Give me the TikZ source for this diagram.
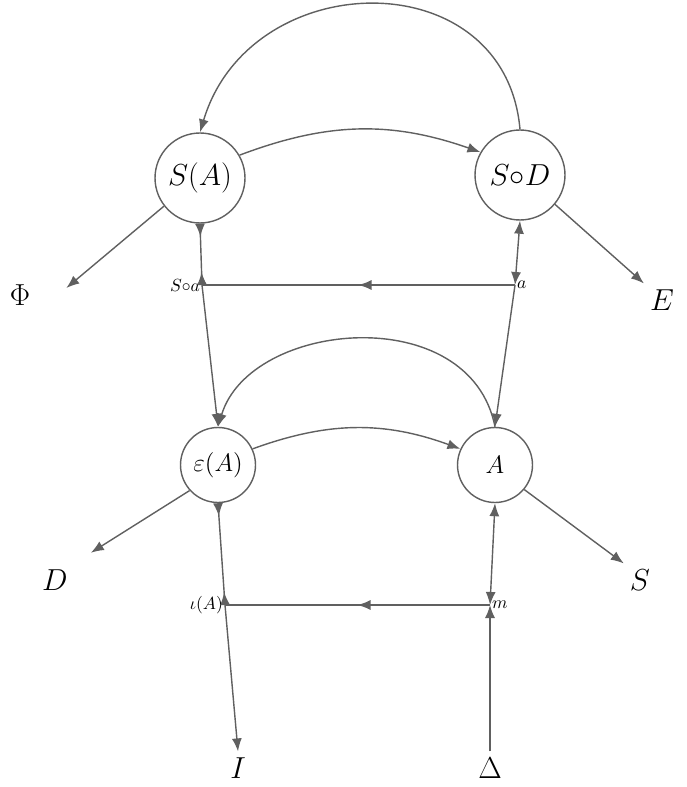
\documentclass[tikz,border=0pt]{standalone}
\usepackage{tikz}
\usetikzlibrary{arrows.meta,calc,decorations.markings}
\colorlet{penGray}{gray!75!black}
\tikzset{
  obj/.style={draw=penGray, circle, thick, minimum size=1.8cm, inner sep=0pt, font=\LARGE},
  smallobj/.style={draw=penGray, circle, thick, minimum size=1.5cm, inner sep=0pt, font=\Large},
  lbl/.style={font=\LARGE},
  tiny lbl/.style={font=\normalsize, inner sep=1pt},
  arr/.style={penGray, thick, -{Latex[length=2.6mm,width=2mm]}},
  midarr/.style={penGray, thick, postaction={decorate},
    decoration={markings, mark=at position 0.5 with {\arrow{>}}}},
}
\begin{document}
\begin{tikzpicture}[x=0.02cm, y=-0.02cm, >={Latex[length=2.6mm,width=2mm]}]
    \useasboundingbox (0,0) rectangle (686,787);
    % upper row
    \node[obj] (SA) at (200,178) {$S(A)$};
    \node[obj] (SD) at (520,175) {$S{\circ}D$};
    \node[lbl] (phi) at (20,295) {$\Phi$};
    \node[lbl] (E) at (662,300) {$E$};
    \coordinate (phitip) at ($(phi.east)+(30,-7)$);
    \coordinate (jl) at (202,285);
    \coordinate (jr) at (515,285);
    \node[tiny lbl, anchor=east] (sa) at (jl) {$S{\circ}a$};
    \node[tiny lbl, anchor=west] (a) at (jr) {$a$};
    % lower row
    \node[smallobj] (eA) at (218,465) {$\varepsilon(A)$};
    \node[smallobj] (A) at (495,465) {$A$};
    \node[lbl] (D) at (55,580) {$D$};
    \node[lbl] (S) at (640,580) {$S$};
    \coordinate (kl) at (225,605);
    \coordinate (kr) at (490,605);
    \node[tiny lbl, anchor=east] (iA) at (kl) {$\iota(A)$};
    \node[tiny lbl, anchor=west] (m) at (kr) {$m$};
    \node[lbl] (I) at (238,768) {$I$};
    \node[lbl] (Delta) at (490,768) {$\Delta$};
    % curved arrows
    \draw[arr] (SD.north) .. controls (505,-40) and (250,-35) .. (SA.north);
    \draw[arr] (SA.30) to[bend left=20] (SD.150);
    \draw[arr] (A.north) .. controls (470,300) and (250,320) .. (eA.north);
    \draw[arr] (eA.25) to[bend left=20] (A.155);
    % outgoing
    \draw[arr] (SA.218) -- (phitip);
    \draw[arr] (SD.320) -- (E.north west);
    \draw[arr, shorten >=0.4cm] (eA.222) -- (D.north east);
    \draw[arr] (A.320) -- (S.north west);
    % verticals
    \draw[penGray, thick, >-<] (SA.south) -- (jl);
    \draw[penGray, thick, <->] (SD.south) -- (jr);
    \draw[penGray, thick, >-<] (eA.south) -- (kl);
    \draw[penGray, thick, <->] (A.south) -- (kr);
    \draw[arr] (jl) -- (eA.north);
    \draw[arr] (jr) -- (A.north);
    \draw[arr] (kl) -- (I.north);
    \draw[arr] (Delta.north) -- (kr);
    % horizontals
    \draw[midarr] (jr) -- (jl);
    \draw[midarr] (kr) -- (kl);
\end{tikzpicture}
\end{document}
